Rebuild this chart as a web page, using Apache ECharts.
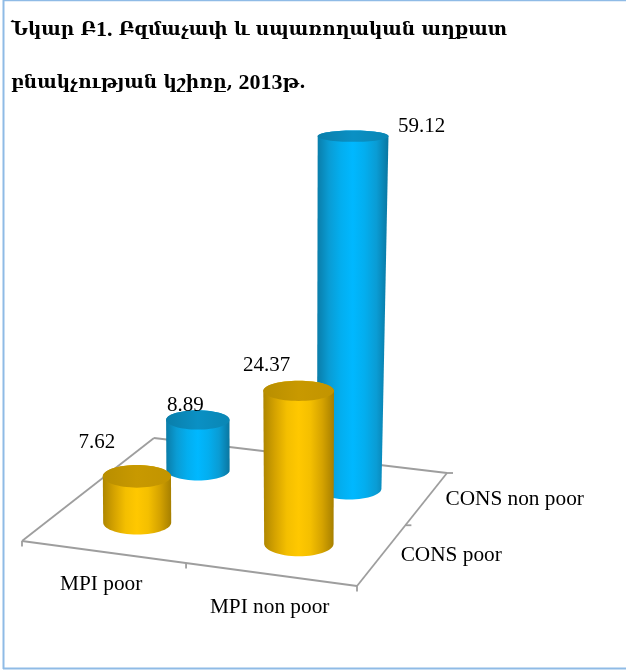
<!DOCTYPE html>
<html>
<head>
<meta charset="utf-8">
<style>html,body{margin:0;padding:0;background:#fff}#c{width:626px;height:671px}</style>
<script src="https://cdn.jsdelivr.net/npm/echarts@6/dist/echarts.min.js"></script>
</head>
<body>
<div id="c"></div>
<script>
// ---- data ----
const titleLine1 = ['Նկար Բ', '1.', ' Բզմաչափ և սպառողական աղքատ'];
const titleLine2 = ['բնակչության կշիռը,', ' 2013', 'թ.'];
const mpiCategories = ['MPI poor', 'MPI non poor'];
const consCategories = ['CONS poor', 'CONS non poor'];
const consPoorValues = [7.62, 24.37];
const consNonPoorValues = [8.89, 59.12];

// ---- 3D frame (layout, not data) ----
const FL = [22, 541], FR = [357, 586], BR = [447, 473], BL = [154, 438];
const RADIUS = 35, VERT_VP_X = 310, HORIZON_Y = -185;
const TXT = '"Liberation Serif","Times New Roman",serif';
const YEL = {side: ['#ae8600', '#d5a300', '#f4bf00', '#ffc800', '#f4bf00', '#d5a300', '#a67f00'], top: ['#b88e00', '#c89900', '#c29400']};
const BLU = {side: ['#0a7ca8', '#0a9cd4', '#03aeef', '#00b8ff', '#03aeef', '#0a9cd4', '#0a76a0'], top: ['#0a7eaa', '#0a90c4', '#0a86b4']};
// value label offsets from each cylinder's top centre, [depth][mpi]
const LABEL_OFF = [[[-40, -34], [-32, -25]], [[-12.5, -14], [68.5, -10]]];

const dx1 = FR[0] - BR[0], dx2 = BL[0] - BR[0], sx = FL[0] - FR[0] + BR[0] - BL[0];
const dy1 = FR[1] - BR[1], dy2 = BL[1] - BR[1], sy = FL[1] - FR[1] + BR[1] - BL[1];
const den = dx1 * dy2 - dx2 * dy1;
const g = (sx * dy2 - dx2 * sy) / den, h = (dx1 * sy - sx * dy1) / den;
const A = FR[0] - FL[0] + g * FR[0], B = BL[0] - FL[0] + h * BL[0];
const D = FR[1] - FL[1] + g * FR[1], E = BL[1] - FL[1] + h * BL[1];
function floor(u, v) {
  const w = g * u + h * v + 1;
  return {x: (A * u + B * v + FL[0]) / w, y: (D * u + E * v + FL[1]) / w, s: 1 / w};
}
const grad = (cols) => ({type: 'linear', x: 0, y: 0, x2: 1, y2: 0,
  colorStops: cols.map((c, i) => ({offset: i / (cols.length - 1), color: c}))});
const flat = (y) => (y - HORIZON_Y) * 0.0005;

function cylinder(depth, pal) {
  return function (params, api) {
    const mpi = api.value(0), val = api.value(1);
    const p = floor((mpi + 0.5) / 2, (depth + 0.5) / 2);
    const rx0 = RADIUS * p.s;
    const ppu = api.size([0, 1])[1];
    let hh = val * ppu * p.s; hh *= 1 + hh / 7500;
    const grow = 1 + hh * hh / 1.26e6;
    const topX = VERT_VP_X + (p.x - VERT_VP_X) * grow, topY = p.y - hh, rx1 = rx0 * grow;
    const ry0 = rx0 * flat(p.y), ry1 = rx1 * flat(topY);
    // bottom half-ellipse left-to-right, then the rim of the top
    const body = [];
    for (let a = 180; a >= 0; a -= 6) {
      const t = a * Math.PI / 180;
      body.push([p.x + rx0 * Math.cos(t), p.y + ry0 * Math.sin(t)]);
    }
    for (let a = 0; a >= -180; a -= 6) {
      const t = a * Math.PI / 180;
      body.push([topX + rx1 * Math.cos(t), topY + ry1 * Math.sin(t)]);
    }
    const off = LABEL_OFF[depth][mpi];
    return {type: 'group', children: [
      {type: 'polygon', shape: {points: body}, style: {fill: grad(pal.side)}},
      {type: 'ellipse', shape: {cx: topX, cy: topY, rx: rx1, ry: ry1}, style: {fill: grad(pal.top)}},
      {type: 'text', x: topX + off[0], y: topY + off[1],
        style: {text: val.toFixed(2), fill: '#000', font: '21px ' + TXT, align: 'center', verticalAlign: 'middle'}}
    ]};
  };
}

function floorItem(params, api) {
  const line = (a, b) => ({type: 'line', shape: {x1: a[0], y1: a[1], x2: b[0], y2: b[1]},
    style: {stroke: '#9e9e9e', lineWidth: 1.8}});
  const kids = [line(FL, FR), line(FR, BR), line(BR, BL), line(BL, FL)];
  // ticks at the category boundaries
  [0, 0.5, 1].forEach(u => { const q = floor(u, 0); kids.push(line([q.x, q.y], [q.x, q.y + 5.5])); });
  [0.5, 1].forEach(v => { const q = floor(1, v); kids.push(line([q.x, q.y], [q.x + 6, q.y])); });
  mpiCategories.forEach((c, i) => {
    const q = floor((i + 0.5) / 2, 0);
    kids.push({type: 'text', x: q.x - 2 + i, y: q.y + 32 + i,
      style: {text: c, fill: '#000', font: '21.3px ' + TXT, align: 'center', verticalAlign: 'middle'}});
  });
  consCategories.forEach((c, i) => {
    const q = floor(1, (i + 0.5) / 2);
    kids.push({type: 'text', x: q.x + 18.5, y: q.y + 1,
      style: {text: c, fill: '#000', font: '21.3px ' + TXT, align: 'left', verticalAlign: 'middle'}});
  });
  return {type: 'group', children: kids};
}

const richLine = (parts) => `{a|${parts[0]}}{l|${parts[1]}}{a|${parts[2]}}`;
const chart = echarts.init(document.getElementById('c'), null, {renderer: 'canvas'});
chart.setOption({
  animation: false,
  backgroundColor: '#fff',
  title: {
    text: richLine(titleLine1) + '\n' + richLine(titleLine2), left: 11, top: 3.5, padding: 0,
    textStyle: {
      fontWeight: 'bold', lineHeight: 53, color: '#000',
      rich: {
        a: {fontFamily: '"DejaVu Serif",serif', fontWeight: 'bold', fontSize: 18.5, lineHeight: 53, color: '#000'},
        l: {fontFamily: TXT, fontWeight: 'bold', fontSize: 22, lineHeight: 53, color: '#000'}
      }
    }
  },
  graphic: [
    {type: 'line', shape: {x1: 3.5, y1: 0, x2: 3.5, y2: 669}, style: {stroke: '#8fbbe6', lineWidth: 2}},
    {type: 'line', shape: {x1: 3, y1: 0.5, x2: 626, y2: 0.5}, style: {stroke: '#8fbbe6', lineWidth: 1.5}},
    {type: 'line', shape: {x1: 3, y1: 668.5, x2: 626, y2: 668.5}, style: {stroke: '#8fbbe6', lineWidth: 2}}
  ],
  grid: {left: 20, right: 20, top: 100, height: 434},
  xAxis: {type: 'category', data: mpiCategories, show: false},
  yAxis: {type: 'value', min: 0, max: 70, show: false},
  series: [
    {type: 'custom', name: 'floor', renderItem: floorItem, data: [[0, 0]], clip: false, silent: true},
    {type: 'custom', name: consCategories[1], renderItem: cylinder(1, BLU), data: consNonPoorValues.map((v, i) => [i, v]), clip: false, silent: true},
    {type: 'custom', name: consCategories[0], renderItem: cylinder(0, YEL), data: consPoorValues.map((v, i) => [i, v]), clip: false, silent: true}
  ]
});
</script>
</body>
</html>
